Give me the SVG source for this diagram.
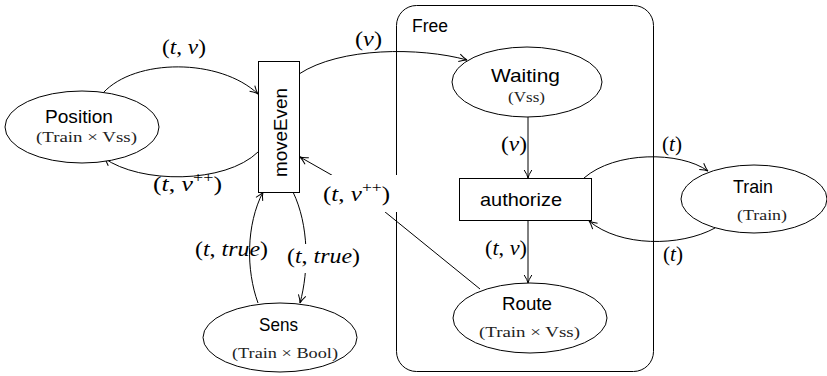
<svg xmlns="http://www.w3.org/2000/svg" width="827" height="376" viewBox="0 0 827 376">
<style>
.n{fill:#fff;stroke:#000;stroke-width:1}
.c{fill:none;stroke:#000;stroke-width:1;marker-end:url(#ah)}
.s{font-family:"Liberation Sans","DejaVu Sans",sans-serif;font-size:19px;fill:#000;text-anchor:middle}
.t{font-family:"Liberation Serif","DejaVu Serif",serif;font-size:15.5px;fill:#222;text-anchor:middle}
.m{font-family:"Liberation Serif","DejaVu Serif",serif;font-size:20px;fill:#000;text-anchor:middle}
.i{font-style:italic}
.bg{fill:#fff;stroke:none}
</style>
<defs>
<marker id="ah" markerWidth="10" markerHeight="10" refX="0" refY="0" viewBox="-9 -5 10 10" orient="auto" markerUnits="userSpaceOnUse">
<path d="M-8,-3.8 Q-3,-0.6 0,0 Q-3,0.6 -8,3.8" fill="none" stroke="#000" stroke-width="1"/>
</marker>
</defs>
<g id="free">
<rect x="396.5" y="5.5" width="257" height="366" rx="20" ry="20" fill="none" stroke="#000" stroke-width="1"/>
<text x="430" y="32" class="s" style="font-size:18px" textLength="36" lengthAdjust="spacingAndGlyphs">Free</text>
</g>
<g id="connectors">
<path class="c" d="M103,93 C135,58 220,58 258,94"/>
<path class="c" d="M258,152 C225,184 140,184 104,158"/>
<path class="c" d="M299,74 C340,47 420,47 467,60"/>
<path class="c" d="M480,289 L358,190 L300,157"/>
<path class="c" d="M293,192 C309,225 309,270 300,303"/>
<path class="c" d="M258,303 C246,270 246,225 263,192"/>
<path class="c" d="M584,178 C615,151 680,151 708,171"/>
<path class="c" d="M715,228 C680,247 620,247 589,221"/>
<path class="c" d="M528,117 L528,178"/>
<path class="c" d="M528,220 L528,283"/>
</g>
<g id="labels">
<text x="184" y="54" class="m" textLength="44" lengthAdjust="spacingAndGlyphs">(<tspan class="i">t</tspan>, <tspan class="i">v</tspan>)</text>
<text x="187.5" y="191" class="m" textLength="69" lengthAdjust="spacingAndGlyphs">(<tspan class="i">t</tspan>, <tspan class="i">v</tspan><tspan dy="-9" font-size="14">++</tspan><tspan dy="9">)</tspan></text>
<text x="368.5" y="46" class="m" textLength="27" lengthAdjust="spacingAndGlyphs">(<tspan class="i">v</tspan>)</text>
<text x="514" y="151" class="m" textLength="26" lengthAdjust="spacingAndGlyphs">(<tspan class="i">v</tspan>)</text>
<rect class="bg" x="318" y="175" width="81" height="37"/>
<text x="356.5" y="201" class="m" textLength="67" lengthAdjust="spacingAndGlyphs">(<tspan class="i">t</tspan>, <tspan class="i">v</tspan><tspan dy="-9" font-size="14">++</tspan><tspan dy="9">)</tspan></text>
<text x="506" y="255" class="m" textLength="42" lengthAdjust="spacingAndGlyphs">(<tspan class="i">t</tspan>, <tspan class="i">v</tspan>)</text>
<text x="672" y="151" class="m" textLength="20" lengthAdjust="spacingAndGlyphs">(<tspan class="i">t</tspan>)</text>
<text x="673" y="261" class="m" textLength="20" lengthAdjust="spacingAndGlyphs">(<tspan class="i">t</tspan>)</text>
<text x="231.5" y="256" class="m" textLength="73" lengthAdjust="spacingAndGlyphs">(<tspan class="i">t</tspan>, <tspan class="i">true</tspan>)</text>
<rect class="bg" x="284" y="244" width="79" height="29"/>
<text x="323.5" y="263" class="m" textLength="73" lengthAdjust="spacingAndGlyphs">(<tspan class="i">t</tspan>, <tspan class="i">true</tspan>)</text>
</g>
<g id="position">
<ellipse class="n" cx="82" cy="127" rx="77" ry="36"/>
<text x="79" y="123" class="s" textLength="68" lengthAdjust="spacingAndGlyphs">Position</text>
<text x="86.5" y="142" class="t" textLength="101" lengthAdjust="spacingAndGlyphs">(Train × Vss)</text>
</g>
<g id="moveEven">
<rect class="n" x="258.5" y="61.5" width="41" height="131"/>
<text class="s" transform="translate(286.5,132.5) rotate(-90)" textLength="89" lengthAdjust="spacingAndGlyphs">moveEven</text>
</g>
<g id="waiting">
<ellipse class="n" cx="527" cy="82" rx="75" ry="35"/>
<text x="525.5" y="82" class="s" textLength="69" lengthAdjust="spacingAndGlyphs">Waiting</text>
<text x="526.5" y="102" class="t" textLength="37" lengthAdjust="spacingAndGlyphs">(Vss)</text>
</g>
<g id="authorize">
<rect class="n" x="459.5" y="178.5" width="132" height="42"/>
<text x="521" y="206" class="s" textLength="82" lengthAdjust="spacingAndGlyphs">authorize</text>
</g>
<g id="train">
<ellipse class="n" cx="754" cy="199" rx="73" ry="34"/>
<text x="753" y="193" class="s" textLength="40" lengthAdjust="spacingAndGlyphs">Train</text>
<text x="762" y="220" class="t" textLength="50" lengthAdjust="spacingAndGlyphs">(Train)</text>
</g>
<g id="route">
<ellipse class="n" cx="530" cy="318" rx="77" ry="35"/>
<text x="527" y="310" class="s" textLength="50" lengthAdjust="spacingAndGlyphs">Route</text>
<text x="529.5" y="337" class="t" textLength="101" lengthAdjust="spacingAndGlyphs">(Train × Vss)</text>
</g>
<g id="sens">
<ellipse class="n" cx="280" cy="337.5" rx="77" ry="34.5"/>
<text x="278.5" y="331" class="s" textLength="39" lengthAdjust="spacingAndGlyphs">Sens</text>
<text x="285" y="358" class="t" textLength="106" lengthAdjust="spacingAndGlyphs">(Train × Bool)</text>
</g>
</svg>
